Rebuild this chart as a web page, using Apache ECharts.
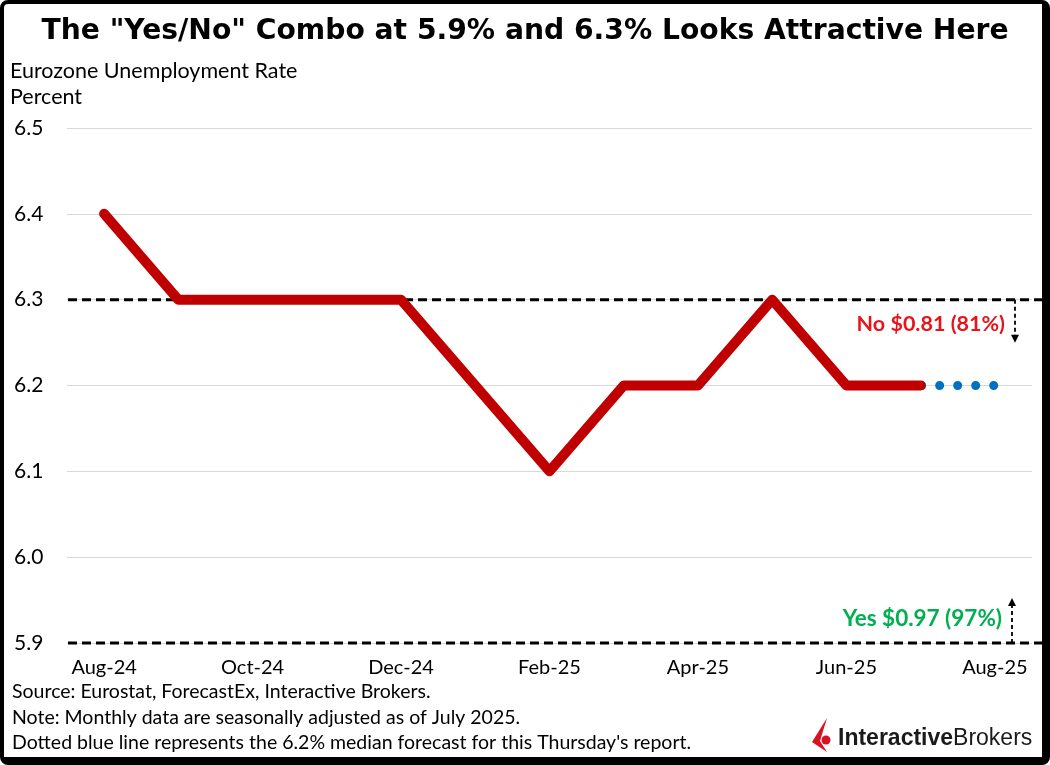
<!DOCTYPE html>
<html>
<head>
<meta charset="utf-8">
<script src="https://cdn.jsdelivr.net/npm/echarts@6/dist/echarts.min.js"></script>
<style>
html,body{margin:0;padding:0;background:#fff;}
#wrap{position:absolute;left:0;top:0;width:1050px;height:765px;box-sizing:border-box;border-style:solid;border-color:#000;border-width:4px 8px 8px 4px;border-radius:8px;background:#fff;}
#c{position:absolute;left:0;top:0;width:1050px;height:765px;}
</style>
</head>
<body>
<div id="wrap"></div>
<div id="c"></div>
<script>
const categories = ['Aug-24','Sep-24','Oct-24','Nov-24','Dec-24','Jan-25','Feb-25','Mar-25','Apr-25','May-25','Jun-25','Jul-25','Aug-25'];
const actual = [6.4, 6.3, 6.3, 6.3, 6.3, 6.2, 6.1, 6.2, 6.2, 6.3, 6.2, 6.2, null];
const forecast = [null, null, null, null, null, null, null, null, null, null, null, 6.2, 6.2];
const yTicks = [5.9, 6.0, 6.1, 6.2, 6.3, 6.4, 6.5];
const noStrike = 6.3;
const yesStrike = 5.9;
const titleText = 'The "Yes/No" Combo at 5.9% and 6.3% Looks Attractive Here';
const axisTitle1 = 'Eurozone Unemployment Rate';
const axisTitle2 = 'Percent';
const noLabel = 'No $0.81 (81%)';
const yesLabel = 'Yes $0.97 (97%)';
const notes = [
  'Source: Eurostat, ForecastEx, Interactive Brokers.',
  'Note: Monthly data are seasonally adjusted as of July 2025.',
  "Dotted blue line represents the 6.2% median forecast for this Thursday's report."
];

const FONT = 'Lato, "Open Sans", sans-serif';
const chart = echarts.init(document.getElementById('c'));
const option = {
  animation: false,
  backgroundColor: 'transparent',
  grid: { left: 67, right: 18, top: 128, bottom: 122, containLabel: false },
  xAxis: {
    type: 'category',
    data: categories,
    boundaryGap: true,
    axisLine: { show: false },
    axisTick: { show: false },
    axisLabel: {
      interval: 1, margin: 15, color: '#000', fontSize: 20, fontFamily: FONT
    },
    splitLine: { show: false }
  },
  yAxis: {
    type: 'value',
    min: yTicks[0], max: yTicks[yTicks.length - 1], interval: 0.1,
    axisLine: { show: false },
    axisTick: { show: false },
    axisLabel: {
      margin: 53, align: 'left', color: '#000', fontSize: 21, fontFamily: FONT,
      formatter: v => v.toFixed(1)
    },
    splitLine: { lineStyle: { color: '#d9d9d9', width: 1 } }
  },
  series: [
    {
      type: 'line', data: forecast, symbol: 'none', z: 2,
      lineStyle: { color: '#0070C0', width: 9, type: [0.01, 18], cap: 'round', dashOffset: -1 }
    },
    {
      type: 'line', data: actual, symbol: 'none', z: 3,
      lineStyle: { color: '#C00000', width: 10, cap: 'round', join: 'round' }
    }
  ]
};
chart.setOption(option);

function buildGraphics() {
  const yNo = chart.convertToPixel({ yAxisIndex: 0 }, noStrike);
  const yYes = chart.convertToPixel({ yAxisIndex: 0 }, yesStrike);
  const x0 = 68, x1 = 1042;
  const dash = { stroke: '#000', lineWidth: 3, lineDash: [9, 5] };
  const g = [
    { type: 'line', shape: { x1: x0, y1: yNo, x2: x1, y2: yNo }, style: dash, z: 1 },
    { type: 'line', shape: { x1: x0, y1: yYes, x2: x1, y2: yYes }, style: dash, z: 1 },
    // No arrow (down)
    { type: 'line', shape: { x1: 1015, y1: yNo, x2: 1015, y2: yNo + 36 }, style: { stroke: '#000', lineWidth: 1.8, lineDash: [4, 3] } },
    { type: 'polygon', shape: { points: [[1011, yNo + 35], [1019, yNo + 35], [1015, yNo + 43]] }, style: { fill: '#000' } },
    // Yes arrow (up)
    { type: 'line', shape: { x1: 1012, y1: yYes, x2: 1012, y2: yYes - 38 }, style: { stroke: '#000', lineWidth: 1.8, lineDash: [4, 3] } },
    { type: 'polygon', shape: { points: [[1008, yYes - 37], [1016, yYes - 37], [1012, yYes - 45]] }, style: { fill: '#000' } },
    { type: 'text', style: { text: noLabel, x: 1005, y: yNo + 24, align: 'right', verticalAlign: 'middle', fill: '#E8141B', font: 'bold 21.5px ' + FONT } },
    { type: 'text', style: { text: yesLabel, x: 1002, y: yYes - 24, align: 'right', verticalAlign: 'middle', fill: '#00B050', font: 'bold 22.5px ' + FONT } },
    // titles
    { type: 'text', style: { text: titleText, x: 525, y: 32, align: 'center', verticalAlign: 'middle', fill: '#000', font: 'bold 28.2px "DejaVu Sans", sans-serif' } },
    { type: 'text', style: { text: axisTitle1, x: 10, y: 71, align: 'left', verticalAlign: 'middle', fill: '#000', font: '21.5px ' + FONT } },
    { type: 'text', style: { text: axisTitle2, x: 10, y: 97, align: 'left', verticalAlign: 'middle', fill: '#000', font: '21.5px ' + FONT } },
    { type: 'text', style: { text: notes[0], x: 12, y: 692, align: 'left', verticalAlign: 'middle', fill: '#000', font: '19.5px ' + FONT } },
    { type: 'text', style: { text: notes[1], x: 12, y: 718, align: 'left', verticalAlign: 'middle', fill: '#000', font: '19.5px ' + FONT } },
    { type: 'text', style: { text: notes[2], x: 12, y: 743, align: 'left', verticalAlign: 'middle', fill: '#000', font: '19.5px ' + FONT } },
    // logo
    { type: 'polygon', shape: { points: [[827, 718], [812, 742], [827, 752], [820, 741]] }, style: { fill: '#D81222' } },
    { type: 'circle', shape: { cx: 826, cy: 740, r: 4.5 }, style: { fill: '#D81222' } },
    { type: 'text', style: { x: 838, y: 739, verticalAlign: 'middle', rich: {
        b: { font: 'bold 23px "Liberation Sans", Arial, sans-serif', fill: '#1a1a1a' },
        r: { font: '23px "Liberation Sans", Arial, sans-serif', fill: '#1a1a1a' } },
        text: '{b|Interactive}{r|Brokers}' } }
  ];
  chart.setOption({ graphic: g });
}
buildGraphics();
</script>
</body>
</html>
